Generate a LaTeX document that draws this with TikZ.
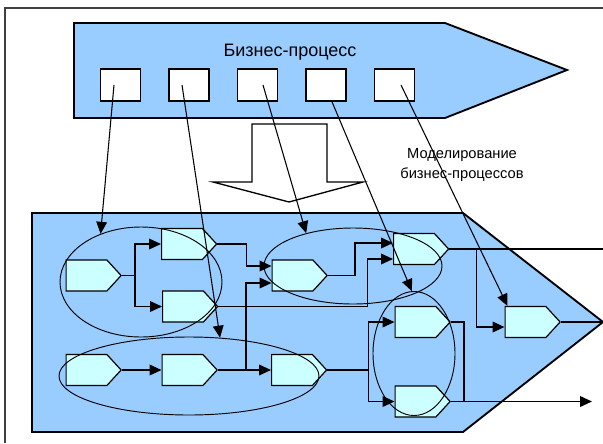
\documentclass[tikz,border=0pt]{standalone}
\usepackage{fontspec}
\setmainfont{Liberation Sans}
\usetikzlibrary{shapes.symbols,shapes.geometric,arrows.meta,calc}
\definecolor{procblue}{HTML}{99CCFF}
\definecolor{opcyan}{HTML}{CCFFFF}

\begin{document}
\begin{tikzpicture}[x=0.75pt,y=-0.75pt,thick]
\tikzset{block/.style={draw,line width=1.4pt,fill=procblue},
stage/.style={draw,line width=1.2pt,fill=white,minimum width=30pt,
minimum height=24pt,inner sep=0pt},
op/.style={signal,signal to=east,signal pointer angle=95,draw,
line width=0.9pt,fill=opcyan,minimum width=41.25pt,minimum height=23.25pt,
inner sep=0pt},
grp/.style={ellipse,draw,line width=0.7pt,inner sep=0pt},
flow/.style={line width=1.2pt,-{Triangle[length=9pt,width=8pt]}},
map/.style={line width=0.8pt,-{Triangle[length=9pt,width=8pt]}},
}
\useasboundingbox (0,0) rectangle (603,443);
\draw[line width=1pt,black!75] (5,443) -- (5,8) -- (603,8);

\draw[block] (74,23) -- (445,23) -- (567,70) -- (445,118) -- (74,118) -- cycle;
\node (title) at (290,52) {\fontsize{13.5}{16}\selectfont Бизнес-процесс};
\foreach \i in {1,...,5}
\node[stage] (box\i) at ({120.5+68.5*(\i-1)},85) {};

\draw[line width=1pt,fill=white] (252,124) -- (327,124) -- (327,182)
-- (363,182) -- (289,202) -- (213,182) -- (252,182) -- cycle;
\node[align=center,font=\fontsize{11}{15}\selectfont] (note) at (462,165)
{Моделирование\\бизнес-процессов};

\draw[block] (32,213) -- (463,213) -- (603,322) -- (463,432) -- (32,432) -- cycle;

\node[op] (A1) at (86.5,275.5) {};
\node[op] (A2) at (182,244) {};
\node[op] (A3) at (183,306.5) {};
\node[op] (B1) at (86.5,370) {};
\node[op] (B2) at (182.5,370) {};
\node[op] (B3) at (292,370) {};
\node[op] (C1) at (292.5,275.5) {};
\node[op] (D1) at (414,249) {};
\node[op] (D2) at (415.5,322) {};
\node[op] (D3) at (415.5,401.5) {};
\node[op] (E1) at (525.5,322) {};
\coordinate (out1) at (603,249);
\coordinate (out2) at (592,401.5);
\coordinate (out3) at (603,322);

\draw[flow] (A1.east) -- ++(13,0) coordinate (j1) |- (A2.west);
\draw[flow] (j1) |- (A3.west);
\draw[flow] (A2.east) -- ++(29,0) |- ($(C1.west)+(0,-9.5)$);
\draw[flow] (B1.east) -- (B2.west);
\draw[flow] (B2.east) -- (B3.west);
\draw[flow] ($(B2.east)+(28,0)$) |- ($(C1.west)+(0,7.5)$);
\draw[flow] (A3.east) -- ++(149,0) |- ($(D1.west)+(0,10)$);
\draw[flow] (C1.east) -- ++(27,0) |- ($(D1.west)+(0,-6)$);
\draw[flow] (B3.east) -- ++(41,0) coordinate (j2) |- (D2.west);
\draw[flow] (j2) |- (D3.west);
\draw[line width=1.2pt] (D1.east) -- (out1);
\draw[flow] ($(D1.east)+(27,0)$) |- ($(E1.west)+(0,5)$);
\draw[line width=1.2pt] (D2.east) -- ++(13,0) |- (D3.east);
\draw[flow] (D3.east) -- (out2);
\draw[line width=1.2pt] (E1.east) -- (out3);

\node[grp,minimum width=121.5pt,minimum height=82.5pt] (g1) at (141,282) {};
\node[grp,minimum width=195pt,minimum height=58.5pt] (g2) at (189,376) {};
\node[grp,minimum width=133.5pt,minimum height=57pt] (g3) at (353,266) {};
\node[grp,minimum width=61.5pt,minimum height=93pt] (g4) at (414,353.5) {};

\draw[map] ($(box1)+(-6.5,0)$) -- (g1.130);
\draw[map] ($(box2)+(-7,0)$) -- (g2.51);
\draw[map] ($(box3)+(5.5,0)$) -- (g3.145);
\draw[map] ($(box4.south)+(6,0)$) -- (g4.92);
\draw[map] ($(box5)+(6.5,0)$) -- ($(E1.north)+(-18,0)$);
\end{tikzpicture}
\end{document}
